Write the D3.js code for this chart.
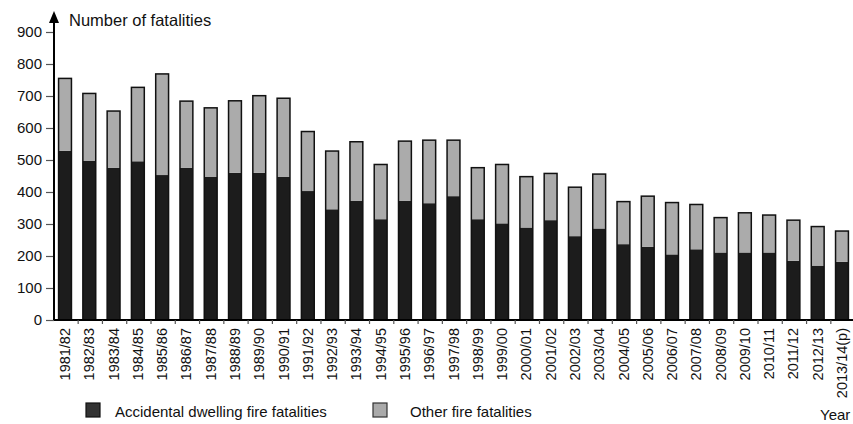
<!DOCTYPE html>
<html>
<head>
<meta charset="utf-8">
<script src="https://cdn.jsdelivr.net/npm/d3@7"></script>
<style>
  html, body { margin: 0; padding: 0; background: #fff; }
  svg { display: block; font-family: "Liberation Sans", Arial, sans-serif; }
</style>
</head>
<body>
<svg id="chart" width="853" height="424"></svg>
<script>
const years = ["1981/82","1982/83","1983/84","1984/85","1985/86","1986/87","1987/88","1988/89","1989/90","1990/91",
  "1991/92","1992/93","1993/94","1994/95","1995/96","1996/97","1997/98","1998/99","1999/00","2000/01",
  "2001/02","2002/03","2003/04","2004/05","2005/06","2006/07","2007/08","2008/09","2009/10","2010/11",
  "2011/12","2012/13","2013/14(p)"];
const accidentalDwelling = [529,498,476,496,453,476,448,460,460,447,
  403,346,372,315,372,365,387,315,302,289,
  312,262,286,237,229,205,221,211,211,211,
  185,170,182];
const otherFire = [226,210,177,231,316,208,215,225,241,246,
  186,182,185,171,187,197,175,161,184,159,
  146,153,170,133,158,162,140,109,124,117,
  127,122,96];
const yTicks = [0,100,200,300,400,500,600,700,800,900];
const seriesNames = ["Accidental dwelling fire fatalities","Other fire fatalities"];
const seriesColors = ["#1c1c1c","#ababab"];

const svg = d3.select("#chart");
const axisX = 54, axisY = 320;

const x = d3.scaleBand().domain(years).range([53, 854]).paddingInner(0.47).paddingOuter(0.23);
const y = d3.scaleLinear().domain([0, 900]).range([320, 32]);

const rows = years.map((yr, i) => ({ year: yr, accidental: accidentalDwelling[i], other: otherFire[i] }));
const stack = d3.stack().keys(["accidental","other"]);
const stacked = stack(rows);

// bars
const g = svg.append("g");
stacked.forEach((layer, li) => {
  g.selectAll(null).data(layer).join("rect")
    .attr("x", d => x(d.data.year))
    .attr("y", d => y(d[1]))
    .attr("width", x.bandwidth())
    .attr("height", d => y(d[0]) - y(d[1]))
    .attr("fill", seriesColors[li]);
});
// outline of each full bar
g.selectAll(null).data(rows).join("rect")
  .attr("x", d => x(d.year))
  .attr("y", d => y(d.accidental + d.other))
  .attr("width", x.bandwidth())
  .attr("height", d => y(0) - y(d.accidental + d.other))
  .attr("fill", "none")
  .attr("stroke", "#111")
  .attr("stroke-width", 1.5);

// y axis
const yAxis = d3.axisLeft(y).tickValues(yTicks).tickSize(8).tickPadding(4);
const ya = svg.append("g").attr("transform", `translate(${axisX},0)`).call(yAxis);
ya.select(".domain").remove();
ya.selectAll(".tick line").attr("stroke", "#555").attr("stroke-width", 1.2);
ya.selectAll(".tick text").attr("font-size", 15).attr("fill", "#111").attr("font-family", "Liberation Sans, Arial, sans-serif");
svg.append("line").attr("x1", axisX).attr("x2", axisX).attr("y1", 20).attr("y2", axisY)
  .attr("stroke", "#000").attr("stroke-width", 2);
svg.append("path").attr("d", `M${axisX-5},23 L${axisX+5},23 L${axisX},11 Z`).attr("fill", "#000");
svg.append("text").attr("x", 69).attr("y", 26).attr("font-size", 16.5).attr("fill", "#111")
  .text("Number of fatalities");

// x axis
svg.append("line").attr("x1", axisX).attr("x2", 853).attr("y1", axisY).attr("y2", axisY)
  .attr("stroke", "#000").attr("stroke-width", 2);
const step = x.step();
svg.append("g").selectAll("line").data(years.slice(0, -1)).join("line")
  .attr("x1", d => x(d) + x.bandwidth() + step * x.paddingInner() / 2 + 1)
  .attr("x2", d => x(d) + x.bandwidth() + step * x.paddingInner() / 2 + 1)
  .attr("y1", axisY).attr("y2", axisY + 4)
  .attr("stroke", "#555").attr("stroke-width", 1.2);
svg.append("g").selectAll("text").data(years).join("text")
  .attr("transform", d => `translate(${x(d) + x.bandwidth() / 2},328) rotate(-90)`)
  .attr("text-anchor", "end")
  .attr("dy", "0.35em")
  .attr("font-size", 14.5)
  .attr("fill", "#111")
  .text(d => d);

// legend
const legend = [
  { name: seriesNames[0], color: "#333", stroke: "#111", sx: 86, tx: 115 },
  { name: seriesNames[1], color: "#aaa", stroke: "#333", sx: 373, tx: 410 }
];
const lg = svg.append("g");
legend.forEach(l => {
  lg.append("rect").attr("x", l.sx).attr("y", 403).attr("width", 14).attr("height", 14)
    .attr("fill", l.color).attr("stroke", l.stroke).attr("stroke-width", 1.2);
  lg.append("text").attr("x", l.tx).attr("y", 417).attr("font-size", 15).attr("fill", "#111").text(l.name);
});
svg.append("text").attr("x", 820).attr("y", 420).attr("font-size", 15).attr("fill", "#111").text("Year");
</script>
</body>
</html>
